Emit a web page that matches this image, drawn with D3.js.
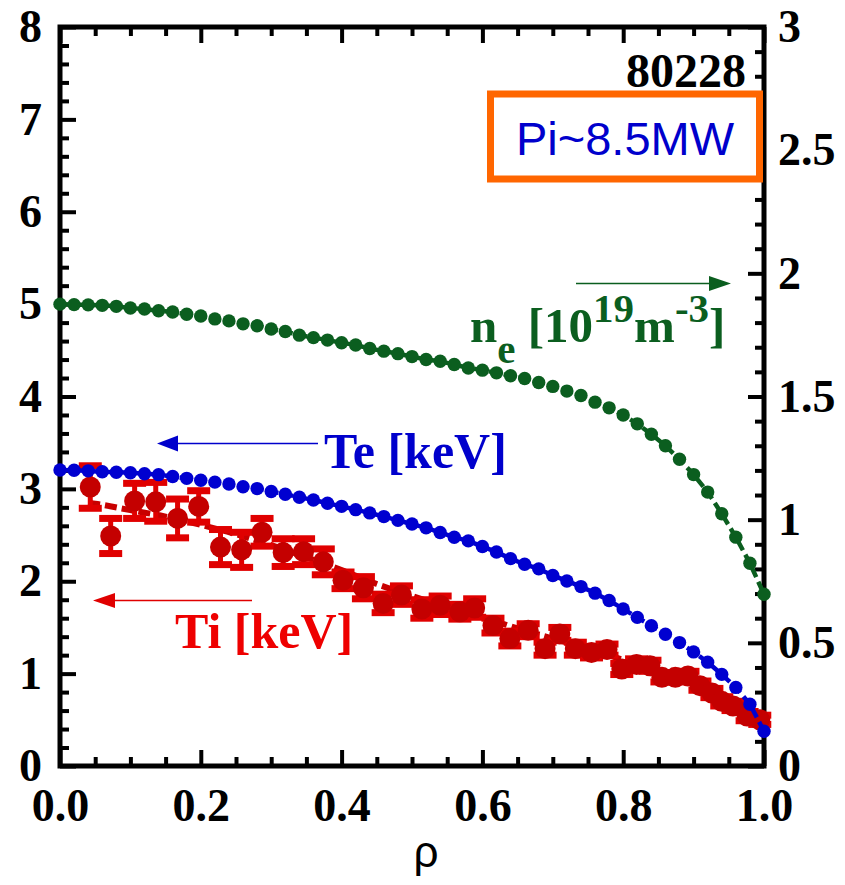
<!DOCTYPE html>
<html>
<head>
<meta charset="utf-8">
<script src="https://cdn.jsdelivr.net/npm/d3@7"></script>
<style>
  body { margin: 0; background: #fff; }
  svg { display: block; }
</style>
</head>
<body>
<svg id="chart" width="845" height="885"></svg>
<script>
// Normalised radius grid of the fitted profiles
const rhoGrid = [0.00,0.02,0.04,0.06,0.08,0.10,0.12,0.14,0.16,0.18,0.20,0.22,0.24,0.26,0.28,0.30,0.32,0.34,0.36,0.38,0.40,
                 0.42,0.44,0.46,0.48,0.50,0.52,0.54,0.56,0.58,0.60,0.62,0.64,0.66,0.68,0.70,0.72,0.74,0.76,0.78,0.80,
                 0.82,0.84,0.86,0.88,0.90,0.92,0.94,0.96,0.98,1.00];

// Electron temperature [keV] (left axis)
const teKeV = [3.205,3.202,3.195,3.185,3.180,3.175,3.164,3.154,3.134,3.114,3.094,3.073,3.053,3.023,3.003,2.972,2.942,2.910,2.880,2.845,2.811,
               2.775,2.740,2.700,2.659,2.619,2.578,2.528,2.477,2.437,2.376,2.316,2.245,2.184,2.134,2.063,2.003,1.942,1.871,1.791,1.700,
               1.609,1.518,1.427,1.336,1.235,1.124,0.992,0.851,0.669,0.376];

// Electron density [10^19 m^-3] (right axis)
const neValues = [1.875,1.873,1.872,1.870,1.866,1.859,1.855,1.848,1.843,1.834,1.827,1.815,1.807,1.795,1.787,1.774,1.764,1.749,1.739,1.729,1.718,
                  1.709,1.695,1.684,1.674,1.662,1.650,1.643,1.630,1.616,1.607,1.596,1.584,1.573,1.557,1.541,1.522,1.504,1.477,1.454,1.425,
                  1.389,1.347,1.300,1.245,1.183,1.112,1.024,0.929,0.823,0.697];

// Ion temperature measurements [keV] with uncertainties
const tiRho = [0.043,0.072,0.106,0.136,0.167,0.197,0.228,0.258,0.287,0.317,0.346,0.374,0.402,0.431,0.459,0.485,0.514,0.540,0.568,0.589,
               0.615,0.639,0.665,0.689,0.710,0.732,0.755,0.777,0.798,0.819,0.838,0.855,0.874,0.892,0.909,0.926,0.940,0.956,0.976,0.994];
const tiKeV = [3.02,2.49,2.87,2.86,2.68,2.81,2.37,2.34,2.53,2.31,2.32,2.21,2.01,1.93,1.76,1.85,1.70,1.74,1.67,1.71,
               1.52,1.38,1.47,1.27,1.43,1.27,1.23,1.26,1.05,1.10,1.085,0.96,0.96,0.975,0.87,0.79,0.70,0.65,0.54,0.50];
const tiErr = [0.23,0.19,0.19,0.21,0.21,0.17,0.19,0.19,0.15,0.15,0.14,0.14,0.09,0.12,0.10,0.10,0.10,0.10,0.08,0.10,
               0.08,0.08,0.07,0.07,0.07,0.07,0.06,0.06,0.06,0.06,0.06,0.05,0.05,0.05,0.05,0.05,0.05,0.05,0.05,0.05];

// Smooth fit through the ion temperature
const tiFitRho = [0.04,0.05,0.10,0.15,0.20,0.25,0.30,0.35,0.40,0.45,0.50,0.55,0.60,0.65,0.70,0.75,0.80,0.85,0.90,0.95,1.00];
const tiFitKeV = [2.85,2.84,2.77,2.70,2.61,2.51,2.39,2.26,2.12,1.97,1.84,1.72,1.61,1.49,1.38,1.27,1.15,1.03,0.90,0.74,0.50];

// Axis ticks and labels
const xTicks = [0, 0.2, 0.4, 0.6, 0.8, 1.0];
const xTickLabels = ["0.0", "0.2", "0.4", "0.6", "0.8", "1.0"];
const leftTicks = [0, 1, 2, 3, 4, 5, 6, 7, 8];
const rightTicks = [0, 0.5, 1, 1.5, 2, 2.5, 3];
const rightTickLabels = ["0", "0.5", "1", "1.5", "2", "2.5", "3"];

const SERIF = "'Liberation Serif', 'Times New Roman', serif";
const SANS = "'Liberation Sans', Arial, sans-serif";

const svg = d3.select("#chart");
const W = 845, H = 885;
const plotL = 60, plotR = 764, plotT = 27, plotB = 766;

const x = d3.scaleLinear().domain([0, 1]).range([plotL, plotR]);
const yL = d3.scaleLinear().domain([0, 8]).range([plotB, plotT]);
const yR = d3.scaleLinear().domain([0, 3]).range([plotB, plotT]);

svg.append("rect").attr("width", W).attr("height", H).attr("fill", "#fff");

// ---- axes (inward ticks, major + minor) ----
function styleAxis(g) {
  g.select(".domain").remove();
  g.selectAll(".tick line").attr("stroke", "#000").attr("stroke-width", 4);
  g.selectAll(".tick text")
    .attr("font-family", SERIF).attr("font-weight", "bold")
    .attr("font-size", 46).attr("fill", "#000");
}

const minorX = d3.range(0, 21).map(i => i / 20).filter(v => !xTicks.some(t => Math.abs(t - v) < 1e-9));
const minorL = d3.range(0, 41).map(i => i / 5).filter(v => !leftTicks.some(t => Math.abs(t - v) < 1e-9));
const minorR = d3.range(0, 31).map(i => i / 10).filter(v => !rightTicks.some(t => Math.abs(t - v) < 1e-9));

// bottom
svg.append("g").attr("transform", `translate(0,${plotB})`)
  .call(d3.axisBottom(x).tickValues(minorX).tickSize(-9).tickFormat(""))
  .call(styleAxis);
svg.append("g").attr("transform", `translate(0,${plotB})`)
  .call(d3.axisBottom(x).tickValues(xTicks).tickSize(-16).tickPadding(22)
        .tickFormat((d, i) => xTickLabels[i]))
  .call(styleAxis);
// top
svg.append("g").attr("transform", `translate(0,${plotT})`)
  .call(d3.axisTop(x).tickValues(minorX).tickSize(-9).tickFormat(""))
  .call(styleAxis);
svg.append("g").attr("transform", `translate(0,${plotT})`)
  .call(d3.axisTop(x).tickValues(xTicks).tickSize(-16).tickFormat(""))
  .call(styleAxis);
// left
svg.append("g").attr("transform", `translate(${plotL},0)`)
  .call(d3.axisLeft(yL).tickValues(minorL).tickSize(-9).tickFormat(""))
  .call(styleAxis);
svg.append("g").attr("transform", `translate(${plotL},0)`)
  .call(d3.axisLeft(yL).tickValues(leftTicks).tickSize(-16).tickPadding(18).tickFormat(d3.format("d")))
  .call(styleAxis);
// right
svg.append("g").attr("transform", `translate(${plotR},0)`)
  .call(d3.axisRight(yR).tickValues(minorR).tickSize(-9).tickFormat(""))
  .call(styleAxis);
svg.append("g").attr("transform", `translate(${plotR},0)`)
  .call(d3.axisRight(yR).tickValues(rightTicks).tickSize(-16).tickPadding(14)
        .tickFormat((d, i) => rightTickLabels[i]))
  .call(styleAxis);

// frame
svg.append("rect")
  .attr("x", plotL).attr("y", plotT)
  .attr("width", plotR - plotL).attr("height", plotB - plotT)
  .attr("fill", "none").attr("stroke", "#000").attr("stroke-width", 5);

// x-axis title
svg.append("text").attr("x", 426).attr("y", 867)
  .attr("text-anchor", "middle").attr("font-family", SANS)
  .attr("font-size", 44).attr("fill", "#000").text("ρ");

// ---- electron density ----
const neData = rhoGrid.map((r, i) => ({ r, v: neValues[i] }));
svg.append("path").datum(neData)
  .attr("fill", "none").attr("stroke", "#0b5e1f").attr("stroke-width", 4.5)
  .attr("stroke-dasharray", "10,5")
  .attr("d", d3.line().x(d => x(d.r)).y(d => yR(d.v)));
svg.append("g").selectAll("circle").data(neData).join("circle")
  .attr("cx", d => x(d.r)).attr("cy", d => yR(d.v)).attr("r", 6.7)
  .attr("fill", "#0b5e1f");

// ---- ion temperature ----
const tiFit = tiFitRho.map((r, i) => ({ r, v: tiFitKeV[i] }));
svg.append("path").datum(tiFit)
  .attr("fill", "none").attr("stroke", "#c80000").attr("stroke-width", 6)
  .attr("stroke-dasharray", "12,5")
  .attr("d", d3.line().curve(d3.curveMonotoneX).x(d => x(d.r)).y(d => yL(d.v)));

const tiData = tiRho.map((r, i) => ({ r, v: tiKeV[i], e: tiErr[i] }));
const eb = svg.append("g").selectAll("g").data(tiData).join("g");
eb.append("line")
  .attr("x1", d => x(d.r)).attr("x2", d => x(d.r))
  .attr("y1", d => yL(d.v - d.e)).attr("y2", d => yL(d.v + d.e))
  .attr("stroke", "#e00000").attr("stroke-width", 5);
eb.append("rect")
  .attr("x", d => x(d.r) - 11.5).attr("y", d => yL(d.v + d.e) - 3.5)
  .attr("width", 23).attr("height", 7).attr("fill", "#e00000");
eb.append("rect")
  .attr("x", d => x(d.r) - 11.5).attr("y", d => yL(d.v - d.e) - 3.5)
  .attr("width", 23).attr("height", 7).attr("fill", "#e00000");
svg.append("g").selectAll("circle").data(tiData).join("circle")
  .attr("cx", d => x(d.r)).attr("cy", d => yL(d.v)).attr("r", 10.5)
  .attr("fill", "#c40000");

// ---- electron temperature ----
const teData = rhoGrid.map((r, i) => ({ r, v: teKeV[i] }));
svg.append("path").datum(teData)
  .attr("fill", "none").attr("stroke", "#0000d0").attr("stroke-width", 4.5)
  .attr("stroke-dasharray", "10,5")
  .attr("d", d3.line().x(d => x(d.r)).y(d => yL(d.v)));
svg.append("g").selectAll("circle").data(teData).join("circle")
  .attr("cx", d => x(d.r)).attr("cy", d => yL(d.v)).attr("r", 6.7)
  .attr("fill", "#0000d0");

// ---- annotations ----
function arrow(x1, x2, y, color, headLen, headHalf) {
  const dir = Math.sign(x2 - x1);
  svg.append("line").attr("x1", x1).attr("x2", x2 - dir * headLen).attr("y1", y).attr("y2", y)
    .attr("stroke", color).attr("stroke-width", 1.6);
  svg.append("path")
    .attr("d", `M${x2},${y} L${x2 - dir * headLen},${y - headHalf} L${x2 - dir * headLen},${y + headHalf} Z`)
    .attr("fill", color);
}
arrow(576, 731, 283.5, "#0b5e1f", 22, 7.5);
arrow(318, 157, 443.5, "#0000cc", 21, 8);
arrow(252, 93, 600.5, "#e00000", 22, 7.5);

const neLabel = svg.append("text").attr("x", 470).attr("y", 342)
  .attr("font-family", SERIF).attr("font-weight", "bold").attr("font-size", 49)
  .attr("fill", "#0b5e1f");
neLabel.append("tspan").text("n");
neLabel.append("tspan").attr("dy", 21).attr("font-size", 41).text("e");
neLabel.append("tspan").attr("dy", -21).text("\u00a0[10");
neLabel.append("tspan").attr("dy", -20).attr("font-size", 41).text("19");
neLabel.append("tspan").attr("dy", 20).text("m");
neLabel.append("tspan").attr("dy", -20).attr("font-size", 41).text("-3");
neLabel.append("tspan").attr("dy", 20).text("]");

svg.append("text").attr("x", 324).attr("y", 468)
  .attr("font-family", SERIF).attr("font-weight", "bold").attr("font-size", 50)
  .attr("fill", "#0000cc").text("Te [keV]");

svg.append("text").attr("x", 175).attr("y", 648)
  .attr("font-family", SERIF).attr("font-weight", "bold").attr("font-size", 50)
  .attr("fill", "#ee0000").text("Ti [keV]");

svg.append("text").attr("x", 746).attr("y", 87).attr("text-anchor", "end")
  .attr("font-family", SERIF).attr("font-weight", "bold").attr("font-size", 48)
  .attr("fill", "#000").text("80228");

svg.append("rect").attr("x", 490.5).attr("y", 94).attr("width", 269).attr("height", 85)
  .attr("fill", "#fff").attr("stroke", "#ff6600").attr("stroke-width", 7);
svg.append("text").attr("x", 625).attr("y", 155).attr("text-anchor", "middle")
  .attr("font-family", SANS).attr("font-size", 47)
  .attr("fill", "#0000cc").text("Pi~8.5MW");
</script>
</body>
</html>
